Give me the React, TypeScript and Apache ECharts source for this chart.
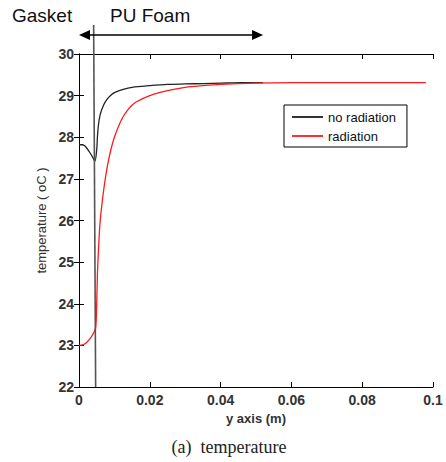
import React, { useEffect, useRef } from "react";
import * as echarts from "echarts";

const xNoRad = [0, 0.001, 0.0015, 0.002, 0.003, 0.004, 0.0045, 0.005, 0.0052, 0.0055, 0.006, 0.007, 0.008, 0.009, 0.01, 0.0125, 0.015, 0.02, 0.025, 0.03, 0.035, 0.04, 0.046, 0.052];
const yNoRad = [27.82, 27.82, 27.8, 27.76, 27.64, 27.5, 27.42, 27.7, 28.0, 28.3, 28.55, 28.78, 28.92, 29.01, 29.07, 29.15, 29.2, 29.24, 29.27, 29.28, 29.29, 29.3, 29.31, 29.31];
const xRad = [0, 0.001, 0.002, 0.003, 0.004, 0.0047, 0.005, 0.0052, 0.0055, 0.006, 0.007, 0.008, 0.009, 0.01, 0.012, 0.014, 0.016, 0.02, 0.025, 0.03, 0.035, 0.04, 0.05, 0.06, 0.07, 0.08, 0.09, 0.098];
const yRad = [23.0, 23.01, 23.06, 23.15, 23.28, 23.42, 24.0, 24.7, 25.3, 26.0, 26.75, 27.3, 27.7, 28.0, 28.42, 28.68, 28.84, 29.0, 29.12, 29.2, 29.24, 29.27, 29.3, 29.31, 29.31, 29.31, 29.31, 29.31];
const seriesNames = ["no radiation", "radiation"];
const gasketX = 0.0047;
const foamEndX = 0.052;
const axisTitleX = "y axis (m)";
const axisTitleY = "temperature ( oC )";
const caption = "(a)  temperature";

export default function App() {
  const ref = useRef<HTMLDivElement>(null);
  useEffect(() => {
    if (!ref.current) return;
    const chart = echarts.init(ref.current, null, { renderer: "svg" });
    const font = "Arial, 'Liberation Sans', sans-serif";
    const labelStyle = { color: "#333", fontSize: 14, fontWeight: "bold" as const, fontFamily: font };
    chart.setOption({
      animation: false,
      backgroundColor: "#fff",
      grid: { left: 79, right: 13, top: 54, bottom: 75 },
      legend: {
        data: seriesNames,
        orient: "vertical",
        left: 284,
        top: 105,
        icon: "rect",
        itemWidth: 31,
        itemHeight: 2,
        itemGap: 5,
        padding: [5, 11, 4, 8],
        borderColor: "#000",
        borderWidth: 1,
        backgroundColor: "#fff",
        textStyle: { fontSize: 13, color: "#111", fontFamily: font, lineHeight: 14 },
      },
      xAxis: [
        {
          type: "value",
          min: 0,
          max: 0.1,
          interval: 0.02,
          name: axisTitleX,
          nameLocation: "middle",
          nameGap: 20,
          nameTextStyle: { fontSize: 13, color: "#333", fontWeight: "bold", fontFamily: font },
          axisLine: { lineStyle: { color: "#000", width: 1 } },
          axisTick: { inside: true, length: 5, lineStyle: { color: "#000" } },
          axisLabel: { ...labelStyle, margin: 6, formatter: (v: number) => String(+v.toFixed(2)) },
          splitLine: { show: false },
        },
        {
          type: "value",
          position: "top",
          min: 0,
          max: 0.1,
          interval: 0.02,
          axisLine: { show: true, lineStyle: { color: "#000", width: 1 } },
          axisTick: { show: true, inside: true, length: 5, lineStyle: { color: "#000" } },
          axisLabel: { show: false },
          splitLine: { show: false },
        },
      ],
      yAxis: [
        {
          type: "value",
          min: 22,
          max: 30,
          interval: 1,
          name: axisTitleY,
          nameLocation: "middle",
          nameGap: 29,
          nameTextStyle: { fontSize: 13, color: "#333", fontFamily: font },
          axisLine: { show: true, lineStyle: { color: "#000", width: 1 } },
          axisTick: { show: true, inside: true, length: 5, lineStyle: { color: "#000" } },
          axisLabel: { ...labelStyle, margin: 5 },
          splitLine: { show: false },
        },
        {
          type: "value",
          position: "right",
          min: 22,
          max: 30,
          interval: 1,
          axisLine: { show: true, lineStyle: { color: "#000", width: 1 } },
          axisTick: { show: true, inside: true, length: 5, lineStyle: { color: "#000" } },
          axisLabel: { show: false },
          splitLine: { show: false },
        },
      ],
      series: [
        {
          name: seriesNames[0],
          type: "line",
          smooth: 0.3,
          symbol: "none",
          color: "#333",
          lineStyle: { color: "#222", width: 1.3 },
          data: xNoRad.map((x, i) => [x, yNoRad[i]]),
        },
        {
          name: seriesNames[1],
          type: "line",
          smooth: 0.3,
          symbol: "none",
          color: "#ff3030",
          lineStyle: { color: "#ff1a1a", width: 1.3 },
          data: xRad.map((x, i) => [x, yRad[i]]),
        },
      ],
    });

    const [gx, gBottom] = chart.convertToPixel({ gridIndex: 0 }, [gasketX, 22]) as number[];
    const [ax0] = chart.convertToPixel({ gridIndex: 0 }, [0, 30]) as number[];
    const [ax1] = chart.convertToPixel({ gridIndex: 0 }, [foamEndX, 30]) as number[];
    const ay = 35;
    const headL = 11;
    const headH = 5;
    chart.setOption({
      graphic: [
        {
          type: "line",
          z: 100,
          shape: { x1: gx - 2, y1: 25, x2: gx, y2: gBottom },
          style: { stroke: "#555", lineWidth: 1.6 },
        },
        {
          type: "line",
          z: 100,
          shape: { x1: ax0 + 2, y1: ay, x2: ax1 - 2, y2: ay },
          style: { stroke: "#000", lineWidth: 1.5 },
        },
        {
          type: "polygon",
          z: 100,
          shape: { points: [[ax0, ay], [ax0 + headL, ay - headH], [ax0 + headL, ay + headH]] },
          style: { fill: "#000" },
        },
        {
          type: "polygon",
          z: 100,
          shape: { points: [[ax1, ay], [ax1 - headL, ay - headH], [ax1 - headL, ay + headH]] },
          style: { fill: "#000" },
        },
        {
          type: "text",
          left: 12,
          top: 6,
          style: { text: "Gasket", fontSize: 19, fill: "#111", fontFamily: font },
        },
        {
          type: "text",
          left: 110,
          top: 6,
          style: { text: "PU Foam", fontSize: 19, fill: "#111", fontFamily: font },
        },
        {
          type: "text",
          x: 229,
          y: 447,
          style: {
            text: caption,
            fontSize: 18,
            fill: "#222",
            fontFamily: "'Liberation Serif', 'DejaVu Serif', serif",
            align: "center",
            verticalAlign: "middle",
          },
        },
      ],
    });
    return () => chart.dispose();
  }, []);
  return <div ref={ref} style={{ position: "fixed", left: 0, top: 0, width: 446, height: 462 }} />;
}
